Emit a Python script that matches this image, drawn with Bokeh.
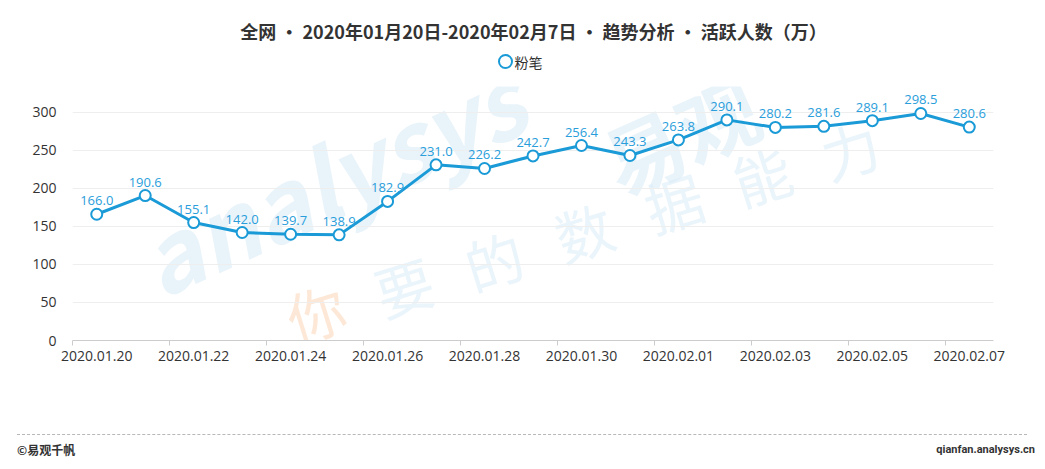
from bokeh.plotting import figure
from bokeh.models import ColumnDataSource, FixedTicker, Range1d, Div
from bokeh.layouts import column
from bokeh.core.properties import value
from bokeh.embed import file_html
from bokeh.resources import INLINE

# ---- data ----
dates = ["2020.01.20", "2020.01.21", "2020.01.22", "2020.01.23", "2020.01.24",
         "2020.01.25", "2020.01.26", "2020.01.27", "2020.01.28", "2020.01.29",
         "2020.01.30", "2020.01.31", "2020.02.01", "2020.02.02", "2020.02.03",
         "2020.02.04", "2020.02.05", "2020.02.06", "2020.02.07"]
values = [166.0, 190.6, 155.1, 142.0, 139.7, 138.9, 182.9, 231.0, 226.2, 242.7,
          256.4, 243.3, 263.8, 290.1, 280.2, 281.6, 289.1, 298.5, 280.6]
y_ticks = [0, 50, 100, 150, 200, 250, 300]
series_name = "粉笔"
title_text = "全网 • 2020年01月20日-2020年02月7日 • 趋势分析 • 活跃人数（万）"
footer_left = "©易观千帆"
footer_right = "qianfan.analysys.cn"

BLUE = "#1a9ad6"
LABEL_BLUE = "#2a9edb"
DARK = "#333333"
FONT = "Noto Sans CJK SC"
NUM_FONT = "Open Sans"

W = 1045
HEAD_H, MAIN_H, FOOT_H = 82, 338, 49
MB_L, MB_R, MB_T, MB_B = 72, 52, 4, 80
Y_END = 334

n = len(dates)
xs = [i + 0.5 for i in range(n)]
src = ColumnDataSource(dict(x=xs, y=values, lab=[f"{v:.1f}" for v in values]))

# ---- header: title + legend (frame is aligned with the chart's plot area) ----
head = figure(width=W, height=HEAD_H, output_backend="svg", toolbar_location=None,
              x_range=Range1d(MB_L, W - MB_R), y_range=Range1d(HEAD_H, 0),
              x_axis_type=None, y_axis_type=None, min_border=0)
head.outline_line_color = None
head.xgrid.visible = False
head.ygrid.visible = False
head.text(x=[533], y=[30], text=[title_text], text_align="center", text_baseline="middle",
          text_font=value(FONT), text_font_size="18px", text_font_style="bold",
          text_color=DARK)
head.scatter(x=[505], y=[61], size=13, marker="circle", fill_color="white",
             line_color=BLUE, line_width=2)
head.text(x=[514], y=[61], text=[series_name], text_align="left", text_baseline="middle",
          text_font=value(FONT), text_font_size="14px", text_color=DARK)

# ---- main chart ----
p = figure(width=W, height=MAIN_H, output_backend="svg", toolbar_location=None,
           x_range=Range1d(0, n), y_range=Range1d(0, Y_END),
           min_border_left=MB_L, min_border_right=MB_R,
           min_border_top=MB_T, min_border_bottom=MB_B)
p.outline_line_color = None

FRAME_W = W - MB_L - MB_R
FRAME_H = MAIN_H - MB_B - MB_T
def dx(page_x):
    return (page_x - MB_L) / FRAME_W * n
def dy(page_y):
    return (HEAD_H + MB_T + FRAME_H - page_y) / FRAME_H * Y_END

# watermark (faint), drawn as text glyphs under the data
p.text(x=[dx(172)], y=[dy(325)], text=["analysys"], angle=0.43, text_font_size="96px",
       text_color="#d9ebf7", text_font=value(FONT), text_font_style="bold italic",
       text_alpha=0.6, level="underlay")
p.text(x=[dx(630)], y=[dy(218)], text=["易观"], angle=0.42, text_font_size="80px",
       text_color="#d9ebf7", text_font=value(FONT), text_font_style="bold",
       text_alpha=0.6, level="underlay")
p.text(x=[dx(300)], y=[dy(360)], text=["你"], angle=0.3, text_font_size="58px",
       text_color="#fbd9bd", text_font=value(FONT), text_alpha=0.6, level="underlay")
p.text(x=[dx(v) for v in [388, 478, 568, 658, 746, 834]],
       y=[dy(v) for v in [334, 308, 279, 250, 223, 197]],
       text=["要", "的", "数", "据", "能", "力"], angle=0.3,
       text_font_size="58px", text_color="#dcecf8", text_font=value(FONT),
       text_alpha=0.6, level="underlay")

even = list(range(0, n, 2))
p.xaxis.ticker = FixedTicker(ticks=[i + 0.5 for i in even], minor_ticks=[float(i) for i in even])
p.xaxis.major_label_overrides = {i + 0.5: dates[i] for i in even}
p.xaxis.major_tick_out = 0
p.xaxis.major_tick_in = 0
p.xaxis.minor_tick_out = 5
p.xaxis.minor_tick_in = 0
p.xaxis.minor_tick_line_color = "#cccccc"
p.xaxis.axis_line_color = "#cccccc"
p.xaxis.major_label_text_font = NUM_FONT
p.xaxis.major_label_text_font_size = "14px"
p.xaxis.major_label_text_color = DARK
p.xaxis.major_label_standoff = 5

p.yaxis.ticker = FixedTicker(ticks=y_ticks)
p.yaxis.axis_line_color = None
p.yaxis.major_tick_line_color = None
p.yaxis.minor_tick_line_color = None
p.yaxis.major_label_text_font = NUM_FONT
p.yaxis.major_label_text_font_size = "14px"
p.yaxis.major_label_text_color = DARK
p.yaxis.major_label_standoff = 10

p.xgrid.grid_line_color = None
p.ygrid.grid_line_color = "#eeeeee"
p.ygrid.ticker = FixedTicker(ticks=y_ticks[1:])

p.line("x", "y", source=src, line_color=BLUE, line_width=3)
p.scatter("x", "y", source=src, size=11, marker="circle", fill_color="white",
          line_color=BLUE, line_width=2)
p.text("x", "y", text="lab", source=src, y_offset=-9, text_align="center",
       text_baseline="bottom", text_font_size="13px", text_color=LABEL_BLUE,
       text_font=value(NUM_FONT))

# ---- footer ----
foot_html = (
    f'<div style="position:relative;width:{W}px;height:{FOOT_H}px;color:{DARK};">'
    '<div style="position:absolute;left:12px;width:1010px;top:9px;height:0;'
    'border-top:1px dashed #b8b8b8;"></div>'
    f'<span style="position:absolute;left:12px;top:16px;font-family:\'{FONT}\';'
    f'font-size:12px;font-weight:bold;line-height:18px;">{footer_left}</span>'
    '<span style="position:absolute;right:15px;top:16px;font-family:Roboto;'
    f'font-size:11px;font-weight:bold;line-height:18px;">{footer_right}</span>'
    '</div>'
)
foot = Div(text=foot_html, width=W, height=FOOT_H)

layout = column(head, p, foot, spacing=0)

open("out.html", "w").write(file_html(layout, INLINE))
